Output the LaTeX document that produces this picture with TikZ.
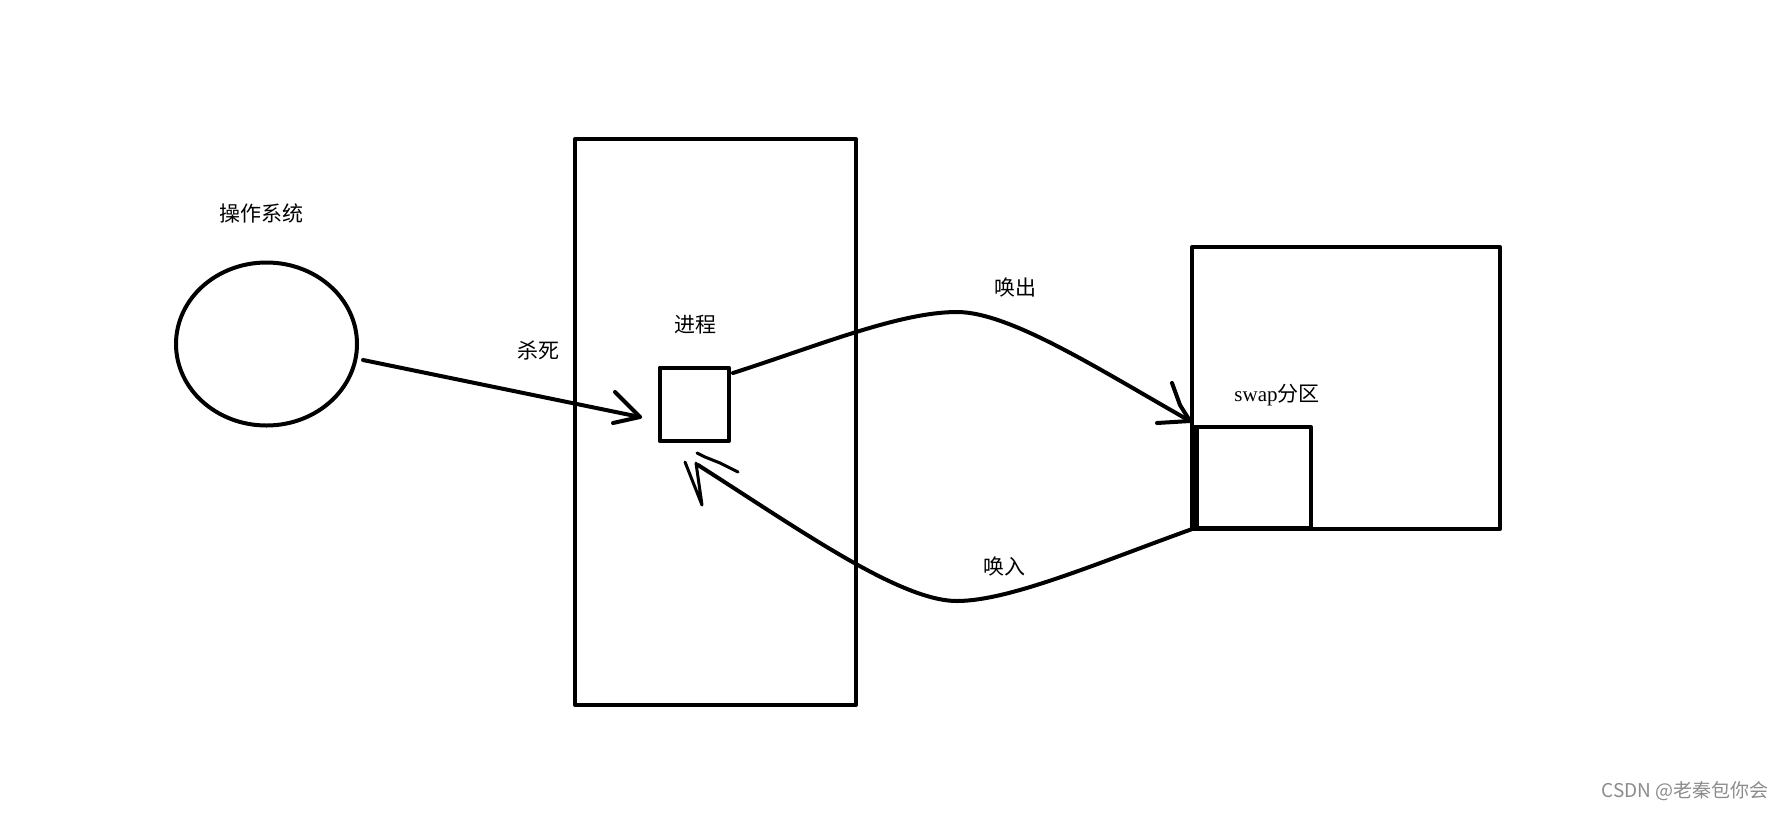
\documentclass[tikz,border=0pt]{standalone}
\usepackage{fontspec}
\usetikzlibrary{shapes.geometric}
\setmainfont{Liberation Serif}
\newfontfamily\cjk{Noto Sans CJK SC}
\begin{document}
\begin{tikzpicture}[x=1pt,y=-1pt,
  line width=4pt, line cap=round, line join=round,
  lbl/.style={font=\cjk\fontsize{21}{21}\selectfont, inner sep=0pt},
  boxnode/.style={draw, line width=4pt, rectangle, inner sep=0pt},
  stroke/.style={draw, line width=4pt, line cap=round, line join=round}]
\useasboundingbox[fill=white] (0,0) rectangle (1787,812);

% shapes
\node[draw, ellipse, line width=4pt, inner sep=0pt, minimum width=181pt, minimum height=163pt] (os) at (266.5,344) {};
\node[boxnode, minimum width=281pt, minimum height=566pt] (mem) at (715.5,422) {};
\node[boxnode, minimum width=69.5pt, minimum height=73.5pt] (proc) at (694.25,404.25) {};
\node[boxnode, minimum width=308pt, minimum height=282pt] (disk) at (1346,388) {};
\node[boxnode, minimum width=115pt, minimum height=101pt] (swap) at (1253.5,477.5) {};
\draw[line width=9pt, line cap=butt] (swap.north west) -- (swap.south west);

% labels
\node[lbl] (tos) at (261.5,213) {操作系统};
\node[lbl] (tkill) at (538,350) {杀死};
\node[lbl] (tproc) at (695,325) {进程};
\node[lbl] (tout) at (1015,287) {唤出};
\node[lbl] (tin) at (1004,566) {唤入};
\node[inner sep=0pt] (tswap) at (1277,395) {\fontsize{21}{21}\selectfont swap\cjk 分区};
\node[inner sep=0pt, text=black!45, font=\cjk\fontsize{19}{19}\selectfont] (wm) at (1685,791) {CSDN @老秦包你会};

% kill arrow
\coordinate (k0) at (363,360);
\coordinate (ktip) at (640,417);
\coordinate (ka1) at (615,392);
\coordinate (ka2) at (613,423);
\draw[stroke] (k0) -- (ktip);
\draw[stroke] (ka1) -- (ktip) -- (ka2);

% swap-out curve
\coordinate (o0) at (733,373);
\coordinate (opeak) at (957,312);
\coordinate (otip) at (1190,421);
\coordinate (oa1) at (1172,383);
\coordinate (oa1m) at (1180,405);
\coordinate (oa2) at (1157,423);
\draw[stroke] (o0) .. controls (820,345) and (900,312) .. (opeak)
  .. controls (1010,312) and (1100,370) .. (otip);
\draw[stroke] (oa1) -- (oa1m) -- (otip);
\draw[stroke] (oa2) -- (otip);

% swap-in curve
\coordinate (i0) at (1195,528);
\coordinate (ilow) at (957,601);
\coordinate (itip) at (698,465);
\coordinate (ia1) at (697,453);
\coordinate (ia1b) at (705,457);
\coordinate (ia1c) at (720,463);
\coordinate (ia1d) at (738,472);
\coordinate (ib1) at (685,462);
\coordinate (ib2) at (702,505);
\coordinate (ib3) at (696,463);
\draw[stroke] (i0) .. controls (1100,562) and (1010,601) .. (ilow)
  .. controls (900,601) and (800,530) .. (itip);
\draw[stroke, line width=3pt] (ia1) -- (ia1b) -- (ia1c) -- (ia1d);
\draw[stroke, line width=3pt] (ib1) -- (ib2) -- (ib3);
\end{tikzpicture}
\end{document}
